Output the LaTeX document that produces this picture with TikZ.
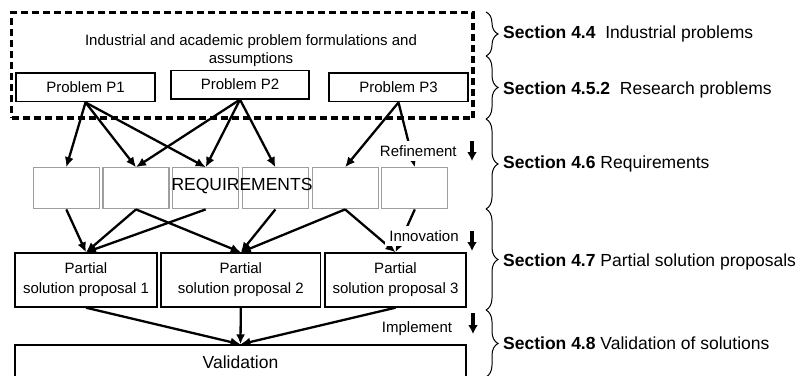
\documentclass[tikz,border=0pt]{standalone}
\usepackage{fontspec}
\setmainfont{Liberation Sans}
\usetikzlibrary{arrows.meta,decorations.pathreplacing}

\begin{document}
\begin{tikzpicture}[x=1pt,y=-1pt,
  small/.style={font=\fontsize{15}{18}\selectfont},
  big/.style={font=\fontsize{17.5}{21}\selectfont},
  pbox/.style={draw, line width=1.4pt, small, inner sep=0pt, align=center},
  rbox/.style={draw=black!38, line width=1.2pt, minimum width=66pt,
    minimum height=41pt, inner sep=0pt},
  link/.style={line width=2.3pt, -{Latex[length=10pt,width=9pt]}},
  steparrow/.style={line width=3.2pt, -{Latex[length=9pt,width=10pt]}},
  steplabel/.style={small, fill=white, inner sep=4pt},
  secbrace/.style={decorate, decoration={brace, amplitude=12pt}, line width=1pt},
  seclabel/.style={big, anchor=base west, inner sep=0pt},
]
\useasboundingbox (0,0) rectangle (805,375);
\clip (0,0) rectangle (805,375);

% problem formulation frame
\node[draw, line width=3.2pt, dash pattern=on 7pt off 4pt,
  minimum width=461.5pt, minimum height=105.5pt, inner sep=0pt]
  (frame) at (242.25,65.25) {};
\node[small, align=center, inner sep=0pt] (intro) at (251,51)
  {Industrial and academic problem formulations and\\assumptions};

% problems
\node[pbox, minimum width=139pt, minimum height=28.7pt] (p1) at (85.5,87.4) {Problem P1};
\node[pbox, minimum width=138pt, minimum height=28.5pt] (p2) at (240,84.6) {Problem P2};
\node[pbox, minimum width=139pt, minimum height=28.7pt] (p3) at (398.5,87.4) {Problem P3};

% requirements
\foreach \i in {1,...,6}
  \node[rbox] (r\i) at ({66.3+69.7*(\i-1)},188.3) {};
\node[big, inner sep=0pt] (req) at (242,186) {REQUIREMENTS};

% partial solution proposals
\node[pbox, minimum width=142pt, minimum height=54pt] (s1) at (86,280)
  {Partial\\[2pt]solution proposal 1};
\node[pbox, minimum width=159.7pt, minimum height=54pt] (s2) at (240.8,280)
  {Partial\\[2pt]solution proposal 2};
\node[pbox, minimum width=141pt, minimum height=54pt] (s3) at (395.5,280)
  {Partial\\[2pt]solution proposal 3};

% validation
\node[pbox, big, minimum width=451pt, minimum height=34pt] (val) at (240.5,362) {Validation};

% problems -> requirements
\foreach \t in {r1,r2,r3} \draw[link] (p1.south) -- (\t.north);
\foreach \t in {r2,r3,r4} \draw[link] (p2.south) -- (\t.north);
\foreach \t in {r5,r6} \draw[link] (p3.south) -- (\t.north);

% requirements -> proposals
\draw[link] (r1.south) -- (s1.north);
\draw[link] (r2.south) -- (s1.north);
\draw[link] (r2.south) -- (s2.north);
\draw[link] (r3.south) -- (s1.north);
\draw[link] (r4.south) -- (s2.north);
\draw[link] (r5.south) -- (s2.north);
\draw[link] (r5.south) -- (s3.north);
\draw[link] (r6.south) -- (s3.north);

% proposals -> validation
\foreach \s in {s1,s2,s3} \draw[link] (\s.south) -- (val.north);

% step labels with their down arrows
\node[steplabel] (refine) at (418.3,151) {Refinement};
\node[steplabel] (innov) at (424,236) {Innovation};
\node[steplabel] (impl) at (417,329) {Implement};
\coordinate (a1) at (472,141);
\coordinate (b1) at (472,161);
\coordinate (a2) at (472,231);
\coordinate (b2) at (472,251);
\coordinate (a3) at (473,313);
\coordinate (b3) at (473,334);
\draw[steparrow] (a1) -- (b1);
\draw[steparrow] (a2) -- (b2);
\draw[steparrow] (a3) -- (b3);

% section braces
\coordinate (k0) at (486,12);
\coordinate (k1) at (486,56);
\coordinate (k2) at (486,119);
\coordinate (k3) at (486,209);
\coordinate (k4) at (486,310);
\coordinate (k5) at (486,377);
\draw[secbrace] (k0) -- (k1);
\draw[secbrace] (k1) -- (k2);
\draw[secbrace] (k2) -- (k3);
\draw[secbrace] (k3) -- (k4);
\draw[secbrace] (k4) -- (k5);

\node[seclabel] (sec44) at (503,38) {\textbf{Section 4.4}~~Industrial problems};
\node[seclabel] (sec452) at (503,94) {\textbf{Section 4.5.2}~~Research problems};
\node[seclabel] (sec46) at (503,168) {\textbf{Section 4.6} Requirements};
\node[seclabel] (sec47) at (503,266) {\textbf{Section 4.7} Partial solution proposals};
\node[seclabel] (sec48) at (503,349) {\textbf{Section 4.8} Validation of solutions};
\end{tikzpicture}
\end{document}
